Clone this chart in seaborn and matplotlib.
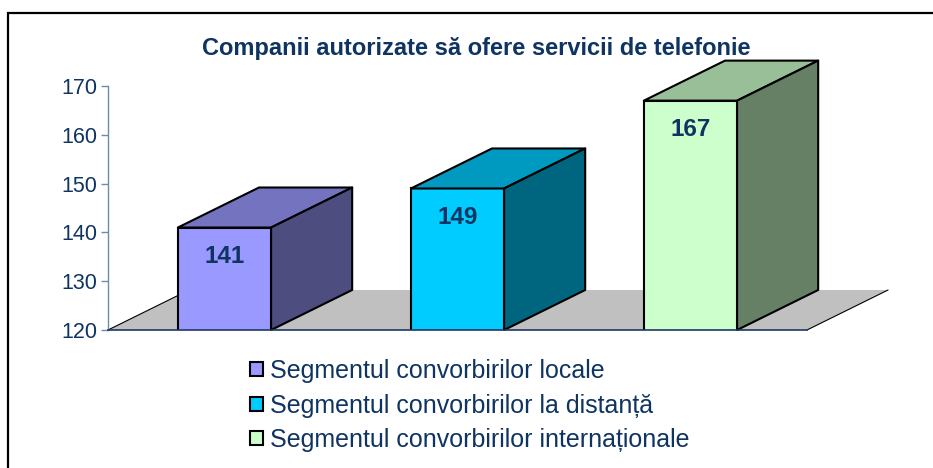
import matplotlib
matplotlib.use("Agg")
import matplotlib.pyplot as plt
import seaborn as sns
from matplotlib.patches import Polygon, Rectangle

# date
categorii = ["Segmentul convorbirilor locale",
             "Segmentul convorbirilor la distanță",
             "Segmentul convorbirilor internaționale"]
valori = [141, 149, 167]
titlu = "Companii autorizate să ofere servicii de telefonie"

# culori (fata, capac, lateral)
culori_fata = ["#9999FF", "#00CCFF", "#CCFFCC"]
culori_sus = ["#7373BF", "#0099BF", "#99BF99"]
culori_lat = ["#4D4D80", "#006680", "#668066"]
text_albastru = "#0F3461"

sns.set_style("white")
plt.rcParams["font.family"] = ["Liberation Sans", "DejaVu Sans"]

W, H = 933, 468
fig = plt.figure(figsize=(W / 100, H / 100), dpi=100)
ax = fig.add_axes([108 / W, 1 - 330 / H, 699 / W, 244 / H])

sns.barplot(x=categorii, y=valori, hue=categorii, palette=culori_fata, saturation=1,
            width=0.4, edgecolor="black", linewidth=1.5, legend=False,
            ax=ax, zorder=3)
bare = sorted([p for p in ax.patches if p.get_height() > 0], key=lambda p: p.get_x())

ymin, ymax = 120, 170
ax.set_ylim(ymin, ymax)
ax.set_xlim(-0.5, 2.5)

# adancimea 3D (in unitati de date)
dx, dy = 0.348, 8.2

# podeaua gri
podea = Polygon([(-0.5, ymin), (2.5, ymin), (2.5 + dx, ymin + dy), (-0.5 + dx, ymin + dy)],
                closed=True, facecolor="#C0C0C0", edgecolor="none", zorder=1, clip_on=False)
ax.add_patch(podea)
ax.plot([-0.5, -0.5 + dx], [ymin, ymin + dy], color="black", lw=0.8, zorder=1.5, clip_on=False)
ax.plot([2.5, 2.5 + dx], [ymin, ymin + dy], color="black", lw=0.8, zorder=1.5, clip_on=False)

for i, p in enumerate(bare):
    x0, w, v = p.get_x(), p.get_width(), valori[i]
    sus = Polygon([(x0, v), (x0 + w, v), (x0 + w + dx, v + dy), (x0 + dx, v + dy)],
                  closed=True, facecolor=culori_sus[i], edgecolor="black", lw=1.5,
                  zorder=3, clip_on=False, joinstyle="round")
    lat = Polygon([(x0 + w, ymin), (x0 + w + dx, ymin + dy), (x0 + w + dx, v + dy), (x0 + w, v)],
                  closed=True, facecolor=culori_lat[i], edgecolor="black", lw=1.5,
                  zorder=3, clip_on=False, joinstyle="round")
    ax.add_patch(sus)
    ax.add_patch(lat)
    ax.text(x0 + w / 2, v - 6.0, str(v), ha="center", va="center",
            fontsize=17.5, fontweight="bold", color=text_albastru, zorder=5)

# axe
for s in ["top", "right"]:
    ax.spines[s].set_visible(False)
ax.spines["left"].set_color("#6F8BB0")
ax.spines["left"].set_linewidth(1.0)
ax.spines["bottom"].set_color("#1F3864")
ax.spines["bottom"].set_linewidth(1.2)
ax.spines["bottom"].set_zorder(4)
ax.set_yticks(range(ymin, ymax + 1, 10))
ax.tick_params(axis="y", direction="out", length=5, width=1.0, color="#6F8BB0",
               labelsize=15.5, labelcolor=text_albastru, pad=3, left=True)
ax.set_xticks([])
ax.set_xlabel("")
ax.set_ylabel("")
ax.grid(False)
ax.set_facecolor("none")

fig.text(476 / W, 1 - 49 / H, titlu, ha="center", va="center",
         fontsize=17, fontweight="bold", color=text_albastru, zorder=6)

# legenda
manere = [Rectangle((0, 0), 1, 1, facecolor=c, edgecolor="black", lw=1.5) for c in culori_fata]
leg = fig.legend(manere, categorii, loc="upper left", bbox_to_anchor=(250 / W, 1 - 359 / H),
                 frameon=False, fontsize=18, handlelength=0.5, handleheight=0.5,
                 handletextpad=0.3, labelspacing=0.42, borderpad=0, borderaxespad=0)
for t in leg.get_texts():
    t.set_color(text_albastru)

# chenar
fig.patches.append(Rectangle((8 / W, -0.2), 1.5, 1 - 13 / H + 0.2, transform=fig.transFigure,
                             fill=False, edgecolor="black", lw=1.6))

fig.savefig("out.png", dpi=100)
